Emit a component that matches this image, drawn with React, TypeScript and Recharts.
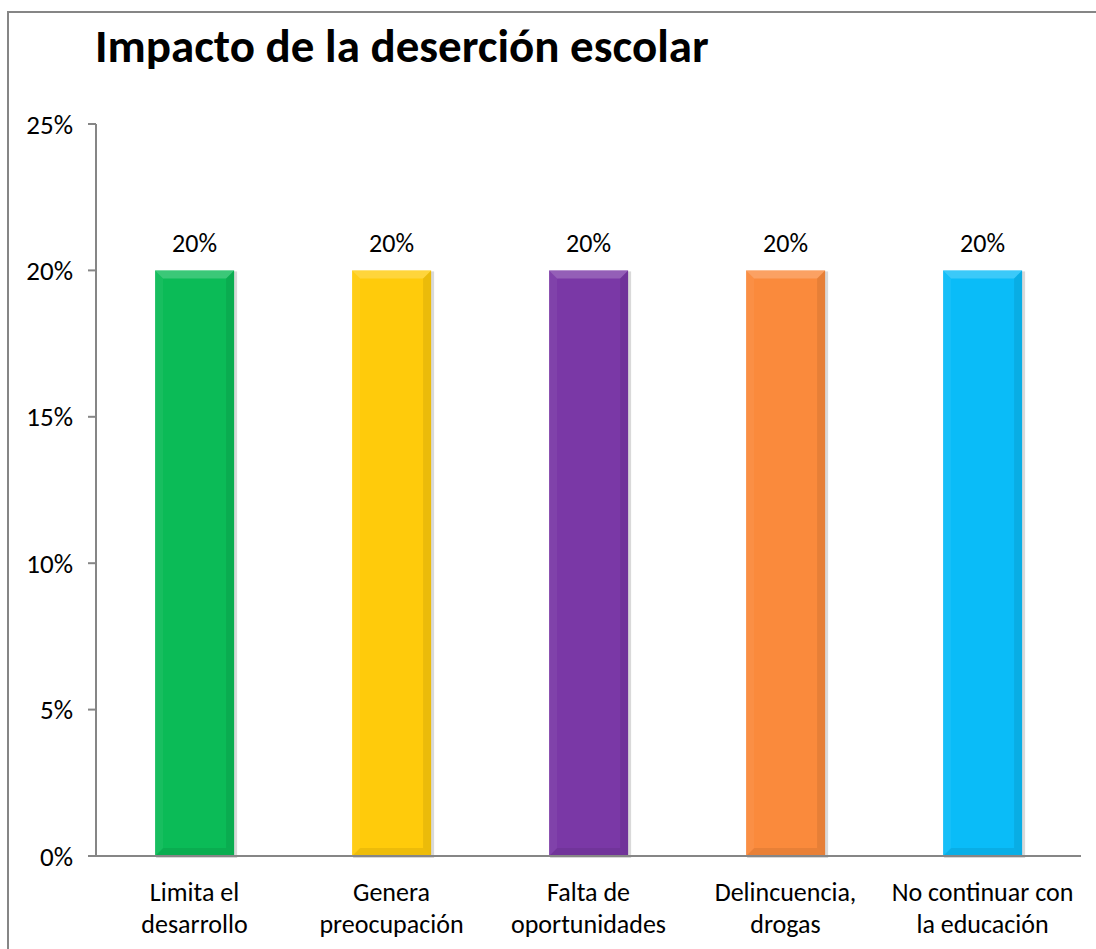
import React from 'react';
import { BarChart, Bar, XAxis, YAxis, Cell, LabelList } from 'recharts';

const categories = [
  'Limita el\ndesarrollo',
  'Genera\npreocupación',
  'Falta de\noportunidades',
  'Delincuencia,\ndrogas',
  'No continuar con\nla educación',
];
const values = [0.2, 0.2, 0.2, 0.2, 0.2];
const colors = ['#0BBB57', '#FFCB0B', '#7A38A6', '#FA8A3C', '#0ABCF8'];
const yTicks = [0, 0.05, 0.1, 0.15, 0.2, 0.25];
const boundaryTicks = [-0.5, 0.5, 1.5, 2.5, 3.5, 4.5];
const title = 'Impacto de la deserción escolar';

const data = categories.map((name, i) => ({ name, value: values[i], idx: i }));

const FONT = 'Carlito, Calibri, Lato, sans-serif';
const AXIS = '#868686';

const pct = (v: number) => `${Math.round(v * 100)}%`;

const BevelBar = (props: any) => {
  const { x, y, width, height, fill } = props;
  if (!height || height <= 0) return null;
  const b = Math.min(8, width / 4, height / 4);
  return (
    <g>
      <rect x={x + 1} y={y + 1} width={width + 2} height={height + 1} fill="#000" opacity={0.15} />
      <rect x={x} y={y} width={width} height={height} fill={fill} />
      <polygon points={`${x},${y} ${x + width},${y} ${x + width - b},${y + b} ${x + b},${y + b}`} fill="#fff" opacity={0.2} />
      <polygon points={`${x},${y} ${x + b},${y + b} ${x + b},${y + height - b} ${x},${y + height}`} fill="#fff" opacity={0.05} />
      <polygon points={`${x + width},${y} ${x + width - b},${y + b} ${x + width - b},${y + height - b} ${x + width},${y + height}`} fill="#000" opacity={0.08} />
      <polygon points={`${x},${y + height} ${x + b},${y + height - b} ${x + width - b},${y + height - b} ${x + width},${y + height}`} fill="#000" opacity={0.07} />
    </g>
  );
};

const CatTick = (props: any) => {
  const { x, y, payload } = props;
  const lines = String(payload.value).split('\n');
  return (
    <text x={x} y={y} textAnchor="middle" fontFamily={FONT} fontSize={26} fill="#000">
      {lines.map((l, i) => (
        <tspan key={i} x={x} dy={i === 0 ? 37 : 32}>
          {l}
        </tspan>
      ))}
    </text>
  );
};

export default function App() {
  return (
    <div style={{ position: 'absolute', left: 0, top: 0, width: 1096, height: 949, background: '#fff', overflow: 'hidden' }}>
      <div
        style={{
          position: 'absolute',
          left: 7,
          top: 11,
          width: 1200,
          height: 1200,
          borderLeft: `2px solid ${AXIS}`,
          borderTop: `2px solid ${AXIS}`,
        }}
      />
      <svg style={{ position: 'absolute', left: 0, top: 0 }} width={1096} height={90}>
        <text x={95} y={62} fontFamily={FONT} fontWeight="bold" fontSize={47} fill="#000">
          {title}
        </text>
      </svg>
      <div style={{ position: 'absolute', left: 0, top: 0 }}>
        <BarChart
          width={1096}
          height={949}
          data={data}
          margin={{ top: 124, right: 15, bottom: 0, left: 36 }}
          barCategoryGap="30%"
        >
          <XAxis
            xAxisId="b"
            type="number"
            dataKey="idx"
            domain={[-0.5, 4.5]}
            allowDataOverflow
            ticks={boundaryTicks}
            tick={false}
            axisLine={false}
            tickLine={{ stroke: AXIS, strokeWidth: 2 }}
            tickSize={8}
            height={0}
          />
          <XAxis
            dataKey="name"
            tickLine={false}
            axisLine={{ stroke: AXIS, strokeWidth: 2 }}
            tick={<CatTick />}
            interval={0}
            height={93}
          />
          <YAxis
            domain={[0, 0.25]}
            ticks={yTicks}
            tickFormatter={pct}
            width={60}
            axisLine={{ stroke: AXIS, strokeWidth: 2 }}
            tickLine={{ stroke: AXIS, strokeWidth: 2 }}
            tickSize={8}
            tickMargin={15}
            tick={{ fontFamily: FONT, fontSize: 27, fill: '#000' }}
          />
          <Bar dataKey="value" isAnimationActive={false} shape={<BevelBar />}>
            {data.map((d, i) => (
              <Cell key={d.name} fill={colors[i]} />
            ))}
            <LabelList
              dataKey="value"
              position="top"
              offset={18}
              formatter={(v: any) => pct(Number(v))}
              style={{ fontFamily: FONT, fontSize: 26, fill: '#000' }}
            />
          </Bar>
        </BarChart>
      </div>
    </div>
  );
}
